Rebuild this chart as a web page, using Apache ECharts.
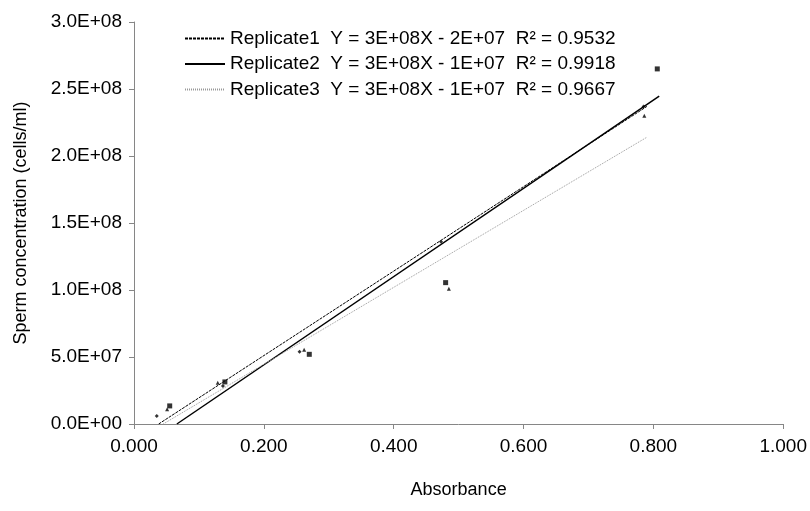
<!DOCTYPE html>
<html><head><meta charset="utf-8">
<script src="https://cdn.jsdelivr.net/npm/echarts@6/dist/echarts.min.js"></script>
<style>html,body{margin:0;padding:0;background:#fff}#c{width:810px;height:511px}</style>
</head><body><div id="c"></div>
<script>
// Measured points (absorbance, cells/ml)
const rep1Points = [[0.035, 6.0e6], [0.137, 28.4e6], [0.255, 54.0e6], [0.473, 1.36e8], [0.785, 2.37e8]];
const rep2Points = [[0.055, 13.5e6], [0.140, 31.4e6], [0.270, 52.0e6], [0.480, 1.055e8], [0.806, 2.65e8]];
const rep3Points = [[0.051, 11.0e6], [0.129, 30.7e6], [0.262, 55.5e6], [0.485, 1.01e8], [0.786, 2.30e8]];
// Trendline endpoints
const rep1Trend = [[0.038, 0], [0.790, 2.37e8]];
const rep2Trend = [[0.066, 0], [0.809, 2.446e8]];
const rep3Trend = [[0.045, 0], [0.790, 2.14e8]];
const seriesNames = ['Replicate1', 'Replicate2', 'Replicate3'];
const equations = ['Y = 3E+08X - 2E+07', 'Y = 3E+08X - 1E+07', 'Y = 3E+08X - 1E+07'];
const rSquared = ['R\u00b2 = 0.9532', 'R\u00b2 = 0.9918', 'R\u00b2 = 0.9667'];
const xTicks = [0, 0.2, 0.4, 0.6, 0.8, 1.0];
const yTicks = [0, 5e7, 1e8, 1.5e8, 2e8, 2.5e8, 3e8];

const FONT = '"Liberation Sans", Arial, sans-serif';
function sci(v) {
  const s = v.toExponential(1);
  const [m, e] = s.split('e');
  const sign = e[0] === '-' ? '-' : '+';
  const d = e.replace(/[+-]/, '').padStart(2, '0');
  return m + 'E' + sign + d;
}
const chart = echarts.init(document.getElementById('c'), null, {renderer: 'canvas'});
const axisGray = '#868686';
const trendColors = ['#000', '#000', '#999'];
const option = {
  animation: false,
  backgroundColor: '#fff',
  grid: {left: 134, right: 26, top: 22, bottom: 87},
  legend: {
    data: seriesNames,
    orient: 'vertical',
    left: 179, top: 24,
    itemWidth: 40, itemHeight: 12, itemGap: 6.5,
    itemStyle: {opacity: 0},
    textStyle: {fontFamily: FONT, fontSize: 19, lineHeight: 19, color: '#000'},
    formatter: function (name) {
      const i = seriesNames.indexOf(name);
      return name + '  ' + equations[i] + '  ' + rSquared[i];
    }
  },
  xAxis: {
    type: 'value', min: 0, max: 1, interval: 0.2,
    name: 'Absorbance', nameLocation: 'middle', nameGap: 57,
    nameTextStyle: {fontFamily: FONT, fontSize: 18, color: '#000'},
    axisLine: {show: true, lineStyle: {color: axisGray, width: 1}},
    axisTick: {show: true, inside: false, length: 5, lineStyle: {color: axisGray}},
    axisLabel: {fontFamily: FONT, fontSize: 19, color: '#000', margin: 13,
      formatter: v => v.toFixed(3)},
    splitLine: {show: false}
  },
  yAxis: {
    type: 'value', min: 0, max: 3e8, interval: 5e7,
    name: 'Sperm concentration (cells/ml)', nameLocation: 'middle', nameGap: 104,
    nameTextStyle: {fontFamily: FONT, fontSize: 18, color: '#000'},
    axisLine: {show: true, lineStyle: {color: axisGray, width: 1}},
    axisTick: {show: true, inside: false, length: 5, lineStyle: {color: axisGray}},
    axisLabel: {fontFamily: FONT, fontSize: 19, color: '#000', margin: 12,
      formatter: v => sci(v)},
    splitLine: {show: false}
  },
  series: [
    {name: 'Replicate1', type: 'line', data: rep1Trend, showSymbol: false, symbol: 'none', clip: true,
      itemStyle: {color: trendColors[0]},
      lineStyle: {color: trendColors[0], width: 1, type: [3, 1]}, z: 3},
    {name: 'Replicate2', type: 'line', data: rep2Trend, showSymbol: false, symbol: 'none', clip: true,
      itemStyle: {color: trendColors[1]},
      lineStyle: {color: trendColors[1], width: 1.5, type: 'solid'}, z: 3},
    {name: 'Replicate3', type: 'line', data: rep3Trend, showSymbol: false, symbol: 'none', clip: true,
      itemStyle: {color: trendColors[2]},
      lineStyle: {color: trendColors[2], width: 1, type: [1, 1]}, z: 3},
    {name: 'pts1', type: 'scatter', data: rep1Points, symbol: 'diamond', symbolSize: 4,
      itemStyle: {color: '#000'}, z: 4},
    {name: 'pts2', type: 'scatter', data: rep2Points, symbol: 'rect', symbolSize: 5,
      itemStyle: {color: '#000'}, z: 4},
    {name: 'pts3', type: 'scatter', data: rep3Points, symbol: 'triangle', symbolSize: 4,
      itemStyle: {color: '#000'}, z: 4}
  ]
};
chart.setOption(option);
</script></body></html>
